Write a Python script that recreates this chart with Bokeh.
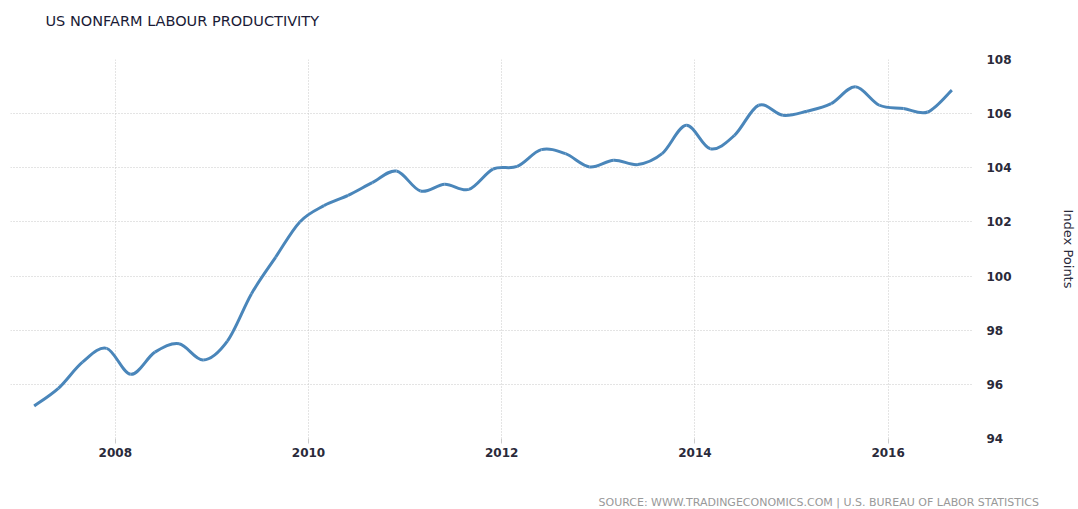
from bokeh.plotting import figure
from bokeh.models import ColumnDataSource, FixedTicker, Title, Range1d
from bokeh.embed import file_html
from bokeh.resources import INLINE

# Quarterly data, 2007 Q1 .. 2016 Q3
years = [2007]*4 + [2008]*4 + [2009]*4 + [2010]*4 + [2011]*4 + [2012]*4 + \
        [2013]*4 + [2014]*4 + [2015]*4 + [2016]*3
quarters = [1, 2, 3, 4]*9 + [1, 2, 3]
productivity = [95.2, 95.85, 96.82, 97.33,
                96.37, 97.19, 97.5, 96.9,
                97.6, 99.35, 100.7, 102.0,
                102.6, 102.98, 103.45, 103.88,
                103.14, 103.39, 103.2, 103.95,
                104.05, 104.67, 104.52, 104.03,
                104.28, 104.12, 104.52, 105.57,
                104.7, 105.2, 106.31, 105.94,
                106.09, 106.37, 106.99, 106.31,
                106.19, 106.06, 106.87]

x_ticks = [2008, 2010, 2012, 2014, 2016]
y_ticks = [94, 96, 98, 100, 102, 104, 106, 108]

title_text = "US NONFARM LABOUR PRODUCTIVITY"
source_text = "SOURCE: WWW.TRADINGECONOMICS.COM | U.S.  BUREAU OF LABOR STATISTICS"
y_label_text = "Index Points"

xs = [y + (q - 1) * 0.25 + 0.16 for y, q in zip(years, quarters)]
ys = productivity

# smooth curve through the points (Catmull-Rom -> cubic Bezier segments)
n = len(xs)
x0, y0, x1, y1, cx0, cy0, cx1, cy1 = [], [], [], [], [], [], [], []
for i in range(n - 1):
    pm = (xs[i - 1], ys[i - 1]) if i > 0 else (xs[i], ys[i])
    p0 = (xs[i], ys[i])
    p1 = (xs[i + 1], ys[i + 1])
    pp = (xs[i + 2], ys[i + 2]) if i + 2 < n else p1
    x0.append(p0[0]); y0.append(p0[1]); x1.append(p1[0]); y1.append(p1[1])
    cx0.append(p0[0] + (p1[0] - pm[0]) / 6.0)
    cy0.append(p0[1] + (p1[1] - pm[1]) / 6.0)
    cx1.append(p1[0] - (pp[0] - p0[0]) / 6.0)
    cy1.append(p1[1] - (pp[1] - p0[1]) / 6.0)

src = ColumnDataSource(dict(x0=x0, y0=y0, x1=x1, y1=y1,
                            cx0=cx0, cy0=cy0, cx1=cx1, cy1=cy1))

p = figure(width=1078, height=509, output_backend="svg", toolbar_location=None,
           y_axis_location="right",
           x_range=Range1d(2006.915, 2016.884), y_range=Range1d(94, 108),
           min_border_left=10, min_border_right=103, min_border_top=59,
           min_border_bottom=71)
p.outline_line_color = None
p.background_fill_color = "white"
p.border_fill_color = "white"

p.bezier(x0="x0", y0="y0", x1="x1", y1="y1", cx0="cx0", cy0="cy0",
         cx1="cx1", cy1="cy1", source=src, line_color="#4a86ba", line_width=3)

font = "DejaVu Sans"
p.xaxis.ticker = FixedTicker(ticks=x_ticks)
p.yaxis.ticker = FixedTicker(ticks=y_ticks)
for ax in (p.xaxis, p.yaxis):
    ax.axis_line_color = None
    ax.minor_tick_line_color = None
    ax.major_label_text_font = font
    ax.major_label_text_font_size = "12px"
    ax.major_label_text_font_style = "bold"
    ax.major_label_text_color = "#2a2a3a"
p.yaxis.major_tick_line_color = None
p.yaxis.major_label_standoff = 7
p.xaxis.major_tick_line_color = "#cccccc"
p.xaxis.major_tick_out = 5
p.xaxis.major_tick_in = 0
p.xaxis.major_label_standoff = 4

p.yaxis.axis_label = y_label_text
p.yaxis.axis_label_text_font = font
p.yaxis.axis_label_text_font_size = "13px"
p.yaxis.axis_label_text_font_style = "normal"
p.yaxis.axis_label_text_color = "#2a2a3a"
p.yaxis.axis_label_standoff = 46

p.xgrid.grid_line_color = "#c8c8c8"
p.ygrid.grid_line_color = "#c8c8c8"
p.xgrid.grid_line_dash = "1 2"
p.ygrid.grid_line_dash = "1 2"
p.xgrid.ticker = FixedTicker(ticks=x_ticks)
p.ygrid.ticker = FixedTicker(ticks=y_ticks)

# spacer panels (blank titles) keep the texts at their places without moving the frame
p.add_layout(Title(text=" ", text_font=font, text_font_size="14.5px", standoff=12), "above")
p.add_layout(Title(text=title_text, align="left", offset=35,
                   text_font=font, text_font_size="14.5px", text_font_style="normal",
                   text_color="#1a1a36", standoff=2), "above")
p.add_layout(Title(text=" ", text_font=font, text_font_size="11px", standoff=18), "below")
p.add_layout(Title(text=source_text, align="left", offset=588, text_font=font,
                   text_font_size="11px", text_font_style="normal",
                   text_color="#999999", standoff=2), "below")

open("out.html", "w").write(file_html(p, INLINE))
